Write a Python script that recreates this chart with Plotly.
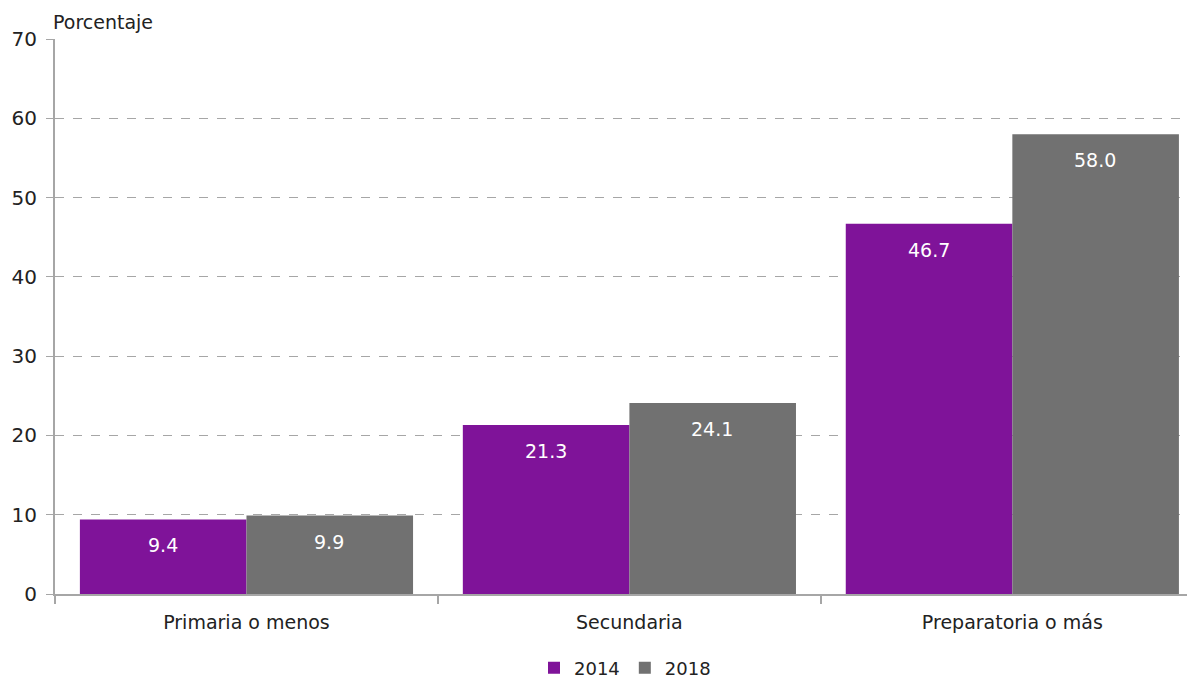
import plotly.graph_objects as go

categories = ["Primaria o menos", "Secundaria", "Preparatoria o más"]
series_names = ["2014", "2018"]
values_2014 = [9.4, 21.3, 46.7]
values_2018 = [9.9, 24.1, 58.0]
colors = ["#7F1399", "#717171"]
y_ticks = [0, 10, 20, 30, 40, 50, 60, 70]

FONT = "DejaVu Sans"
FS = 19
TXT = "#222222"

fig = go.Figure()
for name, vals, col in zip(series_names, [values_2014, values_2018], colors):
    fig.add_trace(go.Bar(
        x=categories, y=vals, name=name, marker=dict(color=col, line=dict(width=0)),
    ))

annotations = [dict(text="Porcentaje", xref="paper", yref="paper", x=0, y=1.0,
                    xanchor="left", yanchor="bottom", showarrow=False,
                    font=dict(size=FS, family=FONT, color=TXT), xshift=-4, yshift=4)]
for sign, vals in zip([-1, 1], [values_2014, values_2018]):
    for c, v in zip(categories, vals):
        annotations.append(dict(text=f"{v:.1f}", x=c, y=v, xref="x", yref="y",
                                showarrow=False, xshift=sign * 83, yshift=-26,
                                font=dict(color="white", size=FS, family=FONT)))

# page body has an 8px default margin; figure sized to fit the visible window
fig.update_layout(
    width=1187, height=673,
    margin=dict(l=47, r=0, t=31, b=87, autoexpand=False),
    barmode="group", bargap=0.13, bargroupgap=0,
    plot_bgcolor="white", paper_bgcolor="white",
    font=dict(family=FONT, size=FS, color=TXT),
    showlegend=True,
    legend=dict(orientation="h", x=0.5, xanchor="center", y=-0.1, yanchor="top",
                font=dict(size=18, family=FONT, color=TXT), traceorder="normal",
                itemsizing="constant", itemwidth=30),
    xaxis=dict(range=[-0.5, 2.477], showline=True, linecolor="#A6A6A6", linewidth=2,
               ticks="outside", tickson="boundaries", ticklen=8, tickcolor="#A6A6A6",
               tickwidth=2, showgrid=False, tickfont=dict(size=FS, color=TXT),
               automargin=False, ticklabelstandoff=10),
    yaxis=dict(range=[0, 70], tickvals=y_ticks, showline=True, linecolor="#A6A6A6",
               linewidth=2, ticks="outside", ticklen=7, tickcolor="#A6A6A6",
               showgrid=True, gridcolor="#A6A6A6", griddash="dash", gridwidth=1,
               tickfont=dict(size=20, color=TXT), zeroline=False, automargin=False,
               ticklabelstandoff=5),
    annotations=annotations,
)

fig.write_html("out.html")
